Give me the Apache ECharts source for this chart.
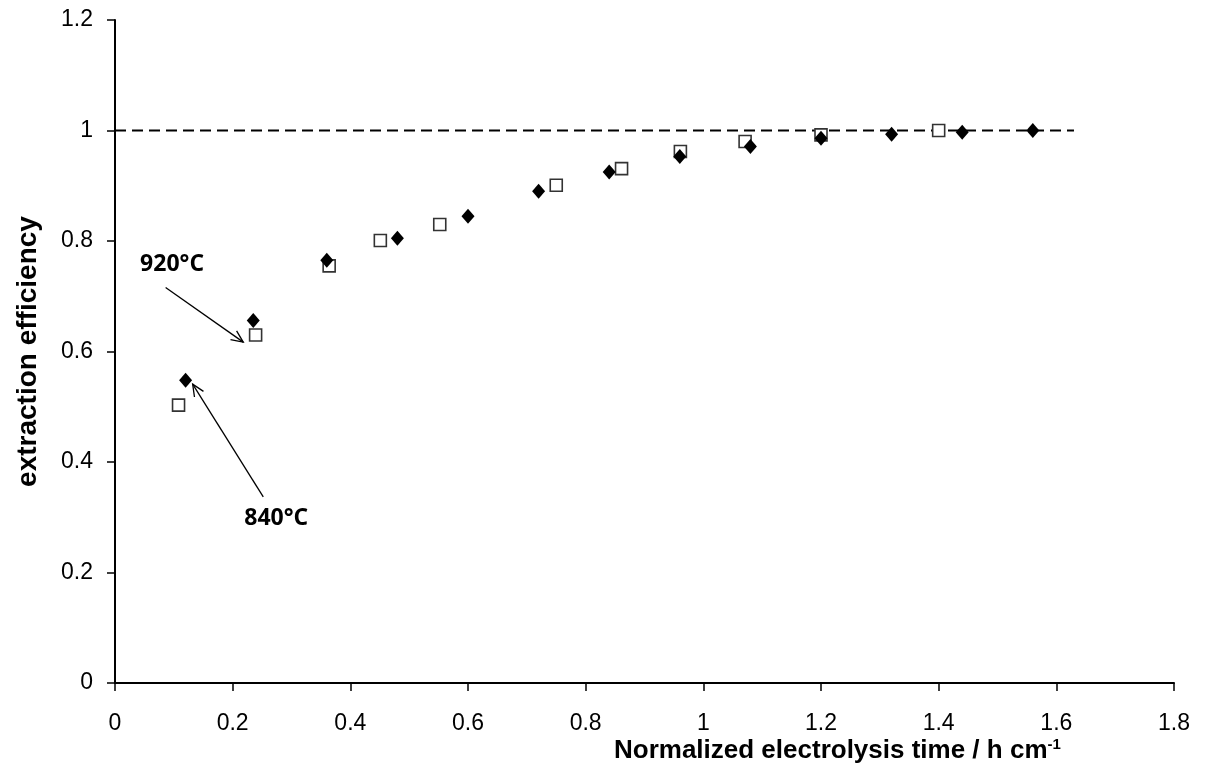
<!DOCTYPE html>
<html>
<head>
<meta charset="utf-8">
<script src="https://cdn.jsdelivr.net/npm/echarts@6/dist/echarts.min.js"></script>
<style>
html,body{margin:0;padding:0;background:#fff;}
#c{width:1206px;height:783px;}
</style>
</head>
<body>
<div id="c"></div>
<script>
// ---- data ----
const xDiamond = [0.12, 0.235, 0.36, 0.48, 0.60, 0.72, 0.84, 0.96, 1.08, 1.20, 1.32, 1.44, 1.56];
const yDiamond = [0.548, 0.656, 0.765, 0.805, 0.845, 0.890, 0.925, 0.953, 0.971, 0.986, 0.993, 0.997, 1.000];
const xSquare = [0.108, 0.239, 0.364, 0.451, 0.552, 0.750, 0.861, 0.961, 1.071, 1.200, 1.400];
const ySquare = [0.503, 0.630, 0.755, 0.801, 0.830, 0.901, 0.931, 0.962, 0.980, 0.992, 1.000];
const xRefLine = [0, 1.63];
const yRefLine = [1, 1];
const xTicks = [0, 0.2, 0.4, 0.6, 0.8, 1, 1.2, 1.4, 1.6, 1.8];
const yTicks = [0, 0.2, 0.4, 0.6, 0.8, 1, 1.2];
// annotations: label text, label position, arrow start, arrow end (data coords)
const annLabels = ['920°C', '840°C'];
const annLabelPos = [[0.097, 0.758], [0.274, 0.297]];
const annFrom = [[0.086, 0.716], [0.252, 0.337]];
const annTo = [[0.218, 0.617], [0.132, 0.541]];

const zip = (a, b) => a.map((v, i) => [v, b[i]]);

const chart = echarts.init(document.getElementById('c'), null, {renderer: 'canvas'});
const axisFont = 'Liberation Sans, Arial, sans-serif';

chart.setOption({
  animation: false,
  backgroundColor: '#fff',
  grid: {left: 115, right: 32, top: 20, bottom: 100, containLabel: false},
  title: {
    text: 'Normalized electrolysis time / h cm{sup|-1}',
    left: 609, top: 732,
    textStyle: {
      fontFamily: axisFont, fontWeight: 'bold', fontSize: 26, color: '#000',
      rich: {sup: {fontFamily: axisFont, fontWeight: 'bold', fontSize: 15, color: '#000', verticalAlign: 'top', padding: [0, 0, 12, 0]}}
    }
  },
  xAxis: {
    type: 'value', min: xTicks[0], max: xTicks[xTicks.length - 1], interval: 0.2,
    axisLine: {show: true, lineStyle: {color: '#000', width: 2}},
    axisTick: {show: true, inside: false, length: 8, lineStyle: {color: '#000', width: 1.5}},
    axisLabel: {color: '#000', fontFamily: axisFont, fontSize: 23, margin: 29},
    splitLine: {show: false}
  },
  yAxis: {
    type: 'value', min: yTicks[0], max: yTicks[yTicks.length - 1], interval: 0.2,
    name: 'extraction efficiency', nameLocation: 'middle', nameRotate: 90, nameGap: 73,
    nameTextStyle: {color: '#000', fontFamily: axisFont, fontWeight: 'bold', fontSize: 28},
    axisLine: {show: true, lineStyle: {color: '#000', width: 2}},
    axisTick: {show: true, inside: false, length: 8, lineStyle: {color: '#000', width: 1.5}},
    axisLabel: {color: '#000', fontFamily: axisFont, fontSize: 23, margin: 22},
    splitLine: {show: false}
  },
  series: [
    {
      type: 'line', data: zip(xRefLine, yRefLine), symbol: 'none', silent: true,
      lineStyle: {color: '#000', width: 2, type: [11, 6]}, z: 1
    },
    {
      type: 'scatter', data: zip(xSquare, ySquare), symbol: 'rect', symbolSize: 12,
      itemStyle: {color: '#fff', borderColor: '#333', borderWidth: 1.6, opacity: 1}, z: 2
    },
    {
      type: 'scatter', data: zip(xDiamond, yDiamond), symbol: 'diamond', symbolSize: [13, 15],
      itemStyle: {color: '#000', opacity: 1}, z: 3
    }
  ]
});

// annotations drawn from data coordinates via the chart's own scales
const g = [];
annLabels.forEach((t, i) => {
  const p = chart.convertToPixel({gridIndex: 0}, annLabelPos[i]);
  g.push({type: 'text', x: p[0], y: p[1], z: 10,
    style: {text: t, fill: '#000', font: 'bold 23px "Open Sans", "Noto Sans", sans-serif', align: 'center', verticalAlign: 'middle'}});
  const a = chart.convertToPixel({gridIndex: 0}, annFrom[i]);
  const b = chart.convertToPixel({gridIndex: 0}, annTo[i]);
  g.push({type: 'line', z: 10, shape: {x1: a[0], y1: a[1], x2: b[0], y2: b[1]}, style: {stroke: '#000', lineWidth: 1.3}});
  const ang = Math.atan2(b[1] - a[1], b[0] - a[0]);
  const L = 13, s = 0.42;
  const p1 = [b[0] - L * Math.cos(ang - s), b[1] - L * Math.sin(ang - s)];
  const p2 = [b[0] - L * Math.cos(ang + s), b[1] - L * Math.sin(ang + s)];
  g.push({type: 'polyline', z: 10, shape: {points: [p1, b, p2]}, style: {stroke: '#000', lineWidth: 1.3, fill: null}});
});
chart.setOption({graphic: g});
</script>
</body>
</html>
